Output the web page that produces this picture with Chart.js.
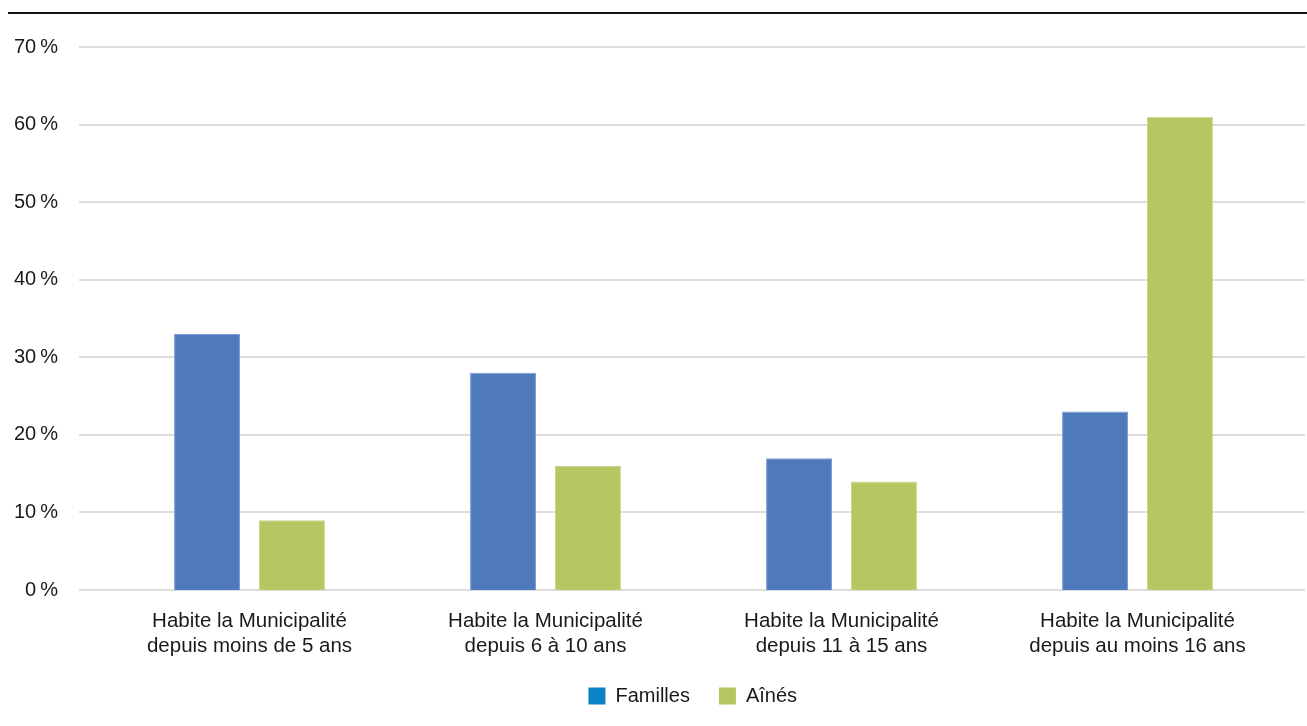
<!DOCTYPE html>
<html><head><meta charset="utf-8">
<script src="https://cdn.jsdelivr.net/npm/chart.js@4.4.1/dist/chart.umd.min.js"></script>
<style>html,body{margin:0;padding:0;background:#fff}#wrap{position:relative;width:1307px;height:726px}</style>
</head><body><div id="wrap"><canvas id="c" width="1307" height="726"></canvas></div>
<script>
const categories = [
  ["Habite la Municipalité", "depuis moins de 5 ans"],
  ["Habite la Municipalité", "depuis 6 à 10 ans"],
  ["Habite la Municipalité", "depuis 11 à 15 ans"],
  ["Habite la Municipalité", "depuis au moins 16 ans"]
];
const seriesNames = ["Familles", "Aînés"];
const familles = [33, 28, 17, 23];
const aines = [9, 16, 14, 61];
const yTicks = [0, 10, 20, 30, 40, 50, 60, 70];

const barColors = ["#4e7abd", "#b5c662"];
const barBorders = ["#7d9dd0", "#c9d58c"];
const legendColors = ["#0a84c6", "#b5c662"];
const FONT = "'Liberation Sans', Arial, sans-serif";

const gridPlugin = {
  id: 'extGrid',
  afterLayout(chart) {
    if (chart.legend) { chart.legend.left += 50; chart.legend.right += 50; }
  },
  beforeDatasetsDraw(chart) {
    const {ctx, chartArea, scales} = chart;
    ctx.save();
    ctx.strokeStyle = '#d2d2d2';
    ctx.lineWidth = 1.5;
    yTicks.forEach(v => {
      const y = Math.round(scales.y.getPixelForValue(v));
      ctx.beginPath();
      ctx.moveTo(chartArea.left - 22.5, y);
      ctx.lineTo(chartArea.right + 19.5, y);
      ctx.stroke();
    });
    ctx.restore();
  },
  afterDraw(chart) {
    const {ctx} = chart;
    ctx.save();
    ctx.strokeStyle = '#111';
    ctx.lineWidth = 2;
    ctx.beginPath();
    ctx.moveTo(8, 13);
    ctx.lineTo(chart.width, 13);
    ctx.stroke();
    ctx.restore();
  }
};

new Chart(document.getElementById('c'), {
  type: 'bar',
  data: {
    labels: categories,
    datasets: [
      {label: seriesNames[0], data: familles, backgroundColor: barColors[0], borderColor: barBorders[0], borderWidth: 1,
       barPercentage: 0.776, categoryPercentage: 0.574},
      {label: seriesNames[1], data: aines, backgroundColor: barColors[1], borderColor: barBorders[1], borderWidth: 1,
       barPercentage: 0.776, categoryPercentage: 0.574}
    ]
  },
  options: {
    responsive: false,
    animation: false,
    devicePixelRatio: 1,
    layout: {padding: {top: 47, right: 21.5, left: 0, bottom: 10}},
    plugins: {
      tooltip: {enabled: false},
      legend: {
        position: 'bottom',
        labels: {
          boxWidth: 17, boxHeight: 17, padding: 29,
          color: '#1a1a1a',
          font: {family: FONT, size: 20},
          generateLabels(chart) {
            return chart.data.datasets.map((d, i) => ({
              text: d.label, fillStyle: legendColors[i], strokeStyle: legendColors[i],
              lineWidth: 0, hidden: false, datasetIndex: i, fontColor: '#1a1a1a'
            }));
          }
        }
      }
    },
    scales: {
      x: {
        grid: {display: false, drawTicks: false},
        border: {display: false},
        ticks: {color: '#1a1a1a', font: {family: FONT, size: 20.5, lineHeight: 1.22}, padding: 19, maxRotation: 0},
        afterFit(s) { s.height = 67; }
      },
      y: {
        min: 0, max: 70,
        grid: {display: false, drawTicks: false},
        border: {display: false},
        ticks: {stepSize: 10, color: '#1a1a1a', font: {family: FONT, size: 20}, padding: 43.5,
                callback: v => v + '\u2009%'},
        afterFit(s) { s.width = 101.5; s.paddingTop = 0; s.paddingBottom = 0; }
      }
    }
  },
  plugins: [gridPlugin]
});
</script></body></html>
